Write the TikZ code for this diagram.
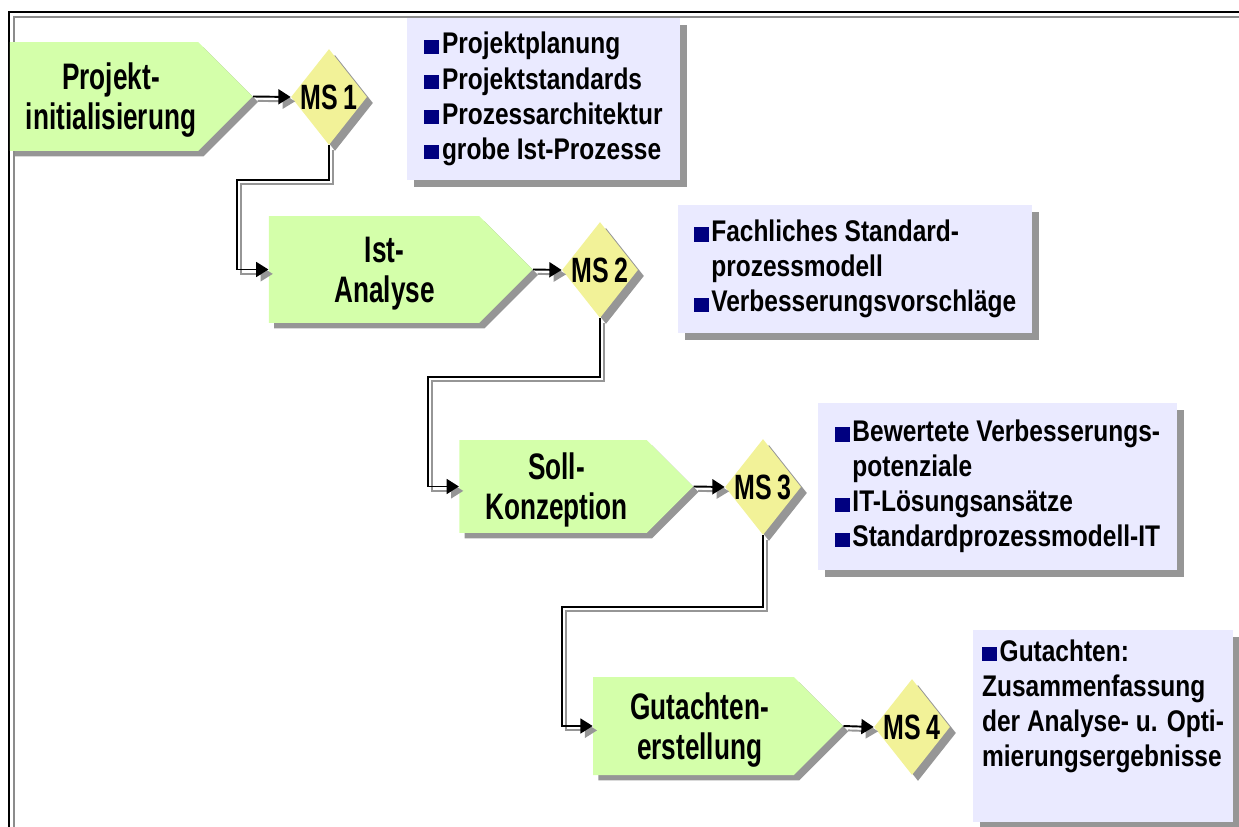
\documentclass[tikz,border=0pt]{standalone}
\usepackage{fontspec}
\usepackage{tikz}
\usetikzlibrary{arrows.meta}
\usetikzlibrary{shadows}
\usetikzlibrary{shapes}
\usetikzlibrary{positioning}

\setmainfont{Liberation Sans}
\newfontfamily\phasefont{Liberation Sans}[FakeStretch=0.71]
\newfontfamily\listfont{Liberation Sans}[FakeStretch=0.82]

\definecolor{phasegreen}{RGB}{212,255,170}
\definecolor{msyellow}{RGB}{242,242,152}
\definecolor{listlilac}{RGB}{234,234,255}
\definecolor{bulletblue}{RGB}{0,0,128}
\definecolor{shadowgray}{RGB}{150,150,150}
\definecolor{framegray}{RGB}{140,140,140}

\newcommand{\bul}{{\color{bulletblue}\rule{8.5pt}{8pt}}\hspace{1.5pt}}
\newcommand{\bulskip}{\hspace*{10pt}}

\tikzset{
  phase/.style={shape=signal, signal to=east, signal pointer angle=90,
    fill=phasegreen, inner sep=0pt, align=center, text depth=0pt,
    font=\phasefont\bfseries\fontsize{21}{22.7}\selectfont,
    drop shadow={shadow xshift=3pt, shadow yshift=-3pt, fill=shadowgray, opacity=1}},
  milestone/.style={diamond, fill=msyellow, inner sep=0pt,
    minimum width=1.52cm, minimum height=1.92cm,
    font=\phasefont\bfseries\fontsize{20}{20}\selectfont,
    drop shadow={shadow xshift=3.4pt, shadow yshift=-3.4pt, fill=shadowgray, opacity=1}},
  result/.style={rectangle, fill=listlilac, inner sep=0pt, align=left,
    font=\listfont\bfseries\fontsize{17}{20}\selectfont,
    drop shadow={shadow xshift=4pt, shadow yshift=-4pt, fill=shadowgray, opacity=1}},
  flow/.style={line width=1.1pt, -{Triangle[length=7pt,width=8.5pt]}},
  flowshadow/.style={flow, draw=shadowgray, transform canvas={xshift=2.5pt, yshift=-2.5pt}}
}

\begin{document}
\begin{tikzpicture}[x=0.02cm, y=-0.02cm]
  \useasboundingbox (0,0) rectangle (1239,827);

  % frame
  \draw[line width=1.1pt] (9,827) -- (9,12) -- (1239,12);
  \draw[framegray, line width=1.1pt] (14,827) -- (14,17) -- (1239,17);

  % phases
  \node[phase, minimum width=4.86cm, minimum height=2.18cm] (p1) at (104,96.5)
    {\hspace*{8pt}Projekt-\\\hspace*{8pt}initialisierung};
  \node[phase, minimum width=5.28cm, minimum height=2.14cm] (p2) at (374,269.5)
    {\hspace*{12pt}Ist-\\\hspace*{12pt}Analyse};
  \node[phase, minimum width=4.68cm, minimum height=1.86cm] (p3) at (553,486.5)
    {\hspace*{4pt}Soll-\\\hspace*{4pt}Konzeption};
  \node[phase, minimum width=5.00cm, minimum height=1.96cm] (p4) at (693.5,726)
    {\hspace*{7pt}Gutachten-\\\hspace*{7pt}erstellung};

  % milestones
  \node[milestone] (ms1) at (329,97) {\makebox[0pt]{MS\,1}};
  \node[milestone] (ms2) at (600,270) {\makebox[0pt]{MS\,2}};
  \node[milestone] (ms3) at (763,487) {\makebox[0pt]{MS\,3}};
  \node[milestone] (ms4) at (912,727) {\makebox[0pt]{MS\,4}};

  % results
  \node[result, minimum width=5.46cm, minimum height=3.24cm] (r1) at (543.5,99)
    {\bul Projektplanung\\\bul Projektstandards\\\bul Prozessarchitektur\\\bul grobe Ist-Prozesse};
  \node[result, minimum width=7.08cm, minimum height=2.56cm] (r2) at (855,269)
    {\bul Fachliches Standard-\\\bulskip prozessmodell\\\bul Verbesserungsvorschläge};
  \node[result, minimum width=7.18cm, minimum height=3.34cm] (r3) at (997.5,486.5)
    {\bul Bewertete Verbesserungs-\\\bulskip potenziale\\\bul IT-Lösungsansätze\\\bul Standardprozessmodell-IT};
  \node[result, minimum width=5.20cm, minimum height=3.84cm] (r4) at (1103,726)
    {\bul Gutachten:\\Zusammenfassung\\der Analyse- u. Opti-\\mierungsergebnisse\\[6pt]};

  % bends
  \coordinate (bend1) at (237,180);
  \coordinate (bend2) at (428,377);
  \coordinate (bend3) at (562,607);

  % connectors
  \draw[flowshadow] (p1.east) -- (ms1.west);
  \draw[flow] (p1.east) -- (ms1.west);
  \draw[flowshadow] (p2.east) -- (ms2.west);
  \draw[flow] (p2.east) -- (ms2.west);
  \draw[flowshadow] (p3.east) -- (ms3.west);
  \draw[flow] (p3.east) -- (ms3.west);
  \draw[flowshadow] (p4.east) -- (ms4.west);
  \draw[flow] (p4.east) -- (ms4.west);

  \draw[flowshadow] (ms1.south) |- (bend1) |- (p2.west);
  \draw[flow] (ms1.south) |- (bend1) |- (p2.west);
  \draw[flowshadow] (ms2.south) |- (bend2) |- (p3.west);
  \draw[flow] (ms2.south) |- (bend2) |- (p3.west);
  \draw[flowshadow] (ms3.south) |- (bend3) |- (p4.west);
  \draw[flow] (ms3.south) |- (bend3) |- (p4.west);
\end{tikzpicture}
\end{document}
